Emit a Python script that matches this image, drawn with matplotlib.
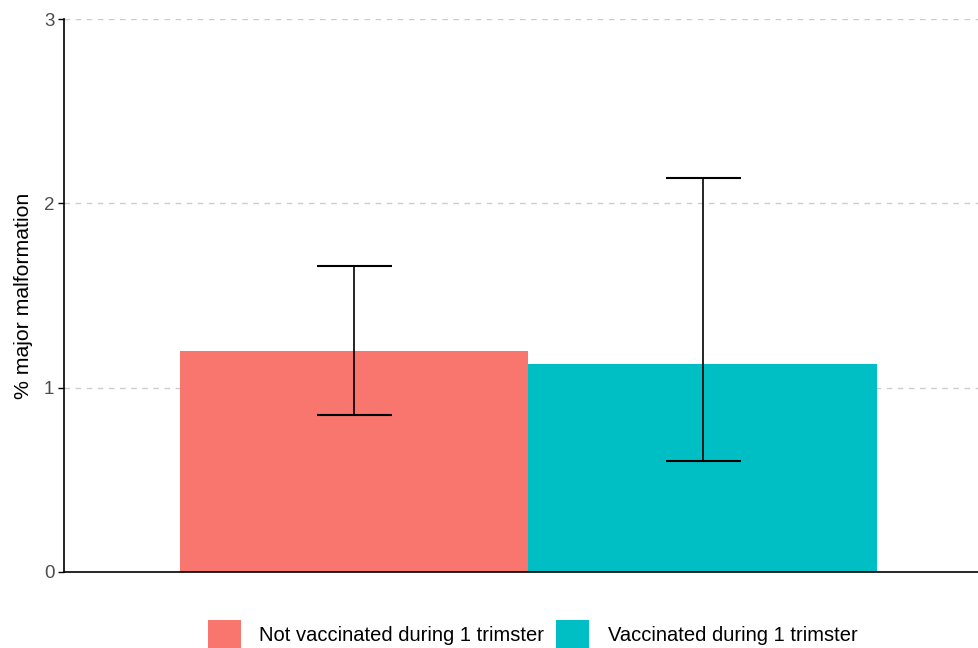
import matplotlib
matplotlib.use('Agg')
import matplotlib.pyplot as plt
from matplotlib.patches import Patch

plt.rcParams['font.family'] = ['Liberation Sans', 'DejaVu Sans']

# bar values (% major malformation)
groups = ["Not vaccinated during 1 trimster", "Vaccinated during 1 trimster"]
values = [1.20, 1.13]
ci_low = [0.85, 0.60]
ci_high = [1.66, 2.14]
colors = ["#F8766D", "#00BFC4"]

y_ticks = [0, 1, 2, 3]

fig = plt.figure(figsize=(9.79, 6.48), dpi=100)
ax = fig.add_axes([64 / 979, 76 / 648, 929 / 979, 553 / 648])

bar_w = 0.45
xs = [1 - bar_w / 2, 1 + bar_w / 2]
ax.bar(xs, values, width=bar_w, color=colors, zorder=2)

err_lo = [v - l for v, l in zip(values, ci_low)]
err_hi = [h - v for v, h in zip(values, ci_high)]
ax.errorbar(xs, values, yerr=[err_lo, err_hi], fmt='none', ecolor='black',
            elinewidth=1.2, capsize=27, capthick=1.5, zorder=3)

ax.set_xlim(0.4, 1.6)
ax.set_ylim(0, 3)
ax.set_yticks(y_ticks)
ax.set_xticks([])
ax.yaxis.grid(True, linestyle=(0, (4, 4)), color='#cccccc', linewidth=1.0, zorder=0)
ax.set_axisbelow(True)

for s in ['top', 'right']:
    ax.spines[s].set_visible(False)
for s in ['left', 'bottom']:
    ax.spines[s].set_linewidth(1.2)
    ax.spines[s].set_color('black')

ax.tick_params(axis='y', length=4, width=1.0, labelsize=13.5, labelcolor='#4d4d4d', pad=3)
ax.set_ylabel("% major malformation", fontsize=15.3, labelpad=8)

handles = [Patch(facecolor=c, edgecolor='none') for c in colors]
fig.legend(handles, groups, loc='center', bbox_to_anchor=(0.544, 0.02), ncol=2,
           frameon=False, fontsize=14.5, handlelength=1.65, handleheight=1.9,
           handletextpad=0.9, columnspacing=0.6, borderaxespad=0, borderpad=0)

fig.savefig("out.png", dpi=100)
